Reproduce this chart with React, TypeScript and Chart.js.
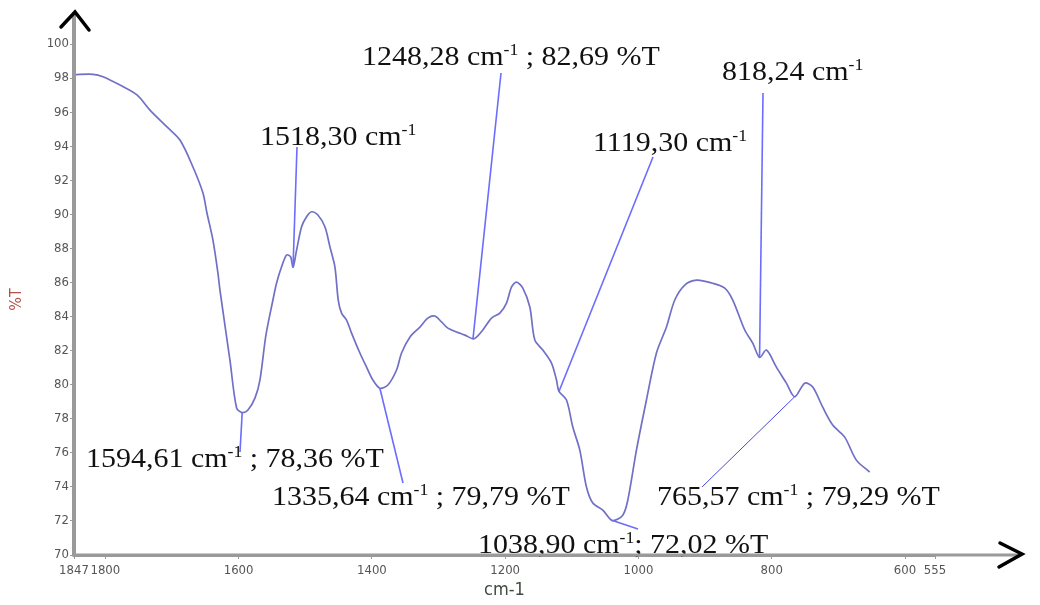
import { useEffect, useRef } from "react";
import { Chart, registerables } from "chart.js";

Chart.register(...registerables);

// FTIR transmittance trace (wavenumber in cm-1, %T)
const wavenumbers = [
  1847, 1818.5, 1803.5, 1778, 1752.5, 1733, 1707.5, 1688, 1668.5, 1653.5, 1647.5, 1638.5,
  1631, 1628, 1613, 1603, 1594.61, 1586, 1575.5, 1568, 1559, 1548.5, 1543, 1535.5, 1528,
  1522, 1518.3, 1513, 1505.5, 1498, 1490.5, 1481, 1470.5, 1463, 1455.5, 1450.5, 1445.5,
  1438, 1430.5, 1418, 1408, 1398.5, 1388, 1376, 1363, 1355.5, 1343, 1328, 1316, 1305.5,
  1295.5, 1286, 1273, 1260.5, 1248.28, 1243, 1233.5, 1220.5, 1208, 1198, 1190.5, 1183,
  1173.5, 1163, 1155.5, 1143.5, 1130.5, 1123, 1119.3, 1108, 1098.5, 1088, 1078, 1068.5,
  1053.5, 1038.9, 1023.5, 1016, 1003, 988, 973, 958, 945.5, 930.5, 912.5, 890, 870.5,
  858.5, 840.5, 828.5, 818.24, 808, 793, 778, 765.57, 750.5, 738.5, 723.5, 708.5, 690.5,
  673, 653,
];

const transmittance = [
  98.2, 98.22, 98.08, 97.59, 97.01, 96.12, 95.13, 94.36, 92.78, 91.25, 90.08, 88.49,
  86.55, 85.55, 81.44, 78.63, 78.36, 78.51, 79.21, 80.27, 82.91, 84.97, 85.97, 86.92, 87.61,
  87.51, 86.9, 87.9, 89.27, 89.86, 90.15, 89.96, 89.27, 88.1, 86.92, 84.97, 84.2,
  83.79, 83.03, 81.86, 81.03, 80.27, 79.79, 79.98, 80.86, 81.86, 82.79, 83.38, 83.91, 84.03,
  83.68, 83.32, 83.09, 82.91, 82.69, 82.79, 83.21, 83.91, 84.2, 84.79, 85.73, 86.02,
  85.67, 84.56, 82.62, 82.03, 81.27, 80.27, 79.6, 79.1, 77.51, 76.16, 73.99, 73.05,
  72.64, 72.02, 72.34, 73.22, 76.16, 79.1, 81.86, 83.38, 84.97, 85.85, 86.14, 85.97, 85.67,
  84.97, 83.21, 82.44, 81.6, 82.03, 81.03, 80.09, 79.29, 80.09, 79.86, 78.68, 77.63, 76.92,
  75.57, 74.87,
];

const xTickValues = [1847, 1800, 1600, 1400, 1200, 1000, 800, 600, 555];

// Annotated bands
const peakWavenumbers = [1594.61, 1518.3, 1335.64, 1248.28, 1119.3, 1038.9, 818.24, 765.57];
const peakTransmittance: (number | null)[] = [78.36, null, 79.79, 82.69, null, 72.02, null, 79.29];
// Point on the trace where each leader line starts
const leaderWavenumbers = [1594.61, 1518.3, 1388, 1248.28, 1119.3, 1038.9, 818.24, 765.57];
const leaderTransmittance = [78.36, 86.9, 79.79, 82.69, 79.6, 72.02, 81.6, 79.29];

// Label placement on the canvas (text origin, far end of leader, separator before %T)
const labelLayout = [
  { tx: 86, ty: 467, ex: 240, ey: 452, sep: " ; ", thin: false },
  { tx: 260, ty: 145, ex: 297, ey: 147, sep: "", thin: false },
  { tx: 272, ty: 505, ex: 403, ey: 483, sep: " ; ", thin: false },
  { tx: 362, ty: 65, ex: 501, ey: 73, sep: " ; ", thin: false },
  { tx: 593, ty: 151, ex: 653, ey: 157, sep: "", thin: false },
  { tx: 478, ty: 553, ex: 638, ey: 529, sep: "; ", thin: false },
  { tx: 722, ty: 80, ex: 763, ey: 93, sep: "", thin: false },
  { tx: 657, ty: 505, ex: 702, ey: 487, sep: " ; ", thin: true },
];

const LABEL_FONT = 27;
const LABEL_STRETCH = 1.11;
const SERIF = '"Liberation Serif", "Times New Roman", serif';
const NARROW = '"Liberation Sans Narrow", "DejaVu Sans Condensed", Arial, sans-serif';

const fmt = (v: number) => v.toFixed(2).replace(".", ",");

function drawLabel(ctx: CanvasRenderingContext2D, x: number, y: number, main: string, tail: string) {
  ctx.save();
  ctx.translate(x, y);
  ctx.scale(LABEL_STRETCH, 1);
  ctx.fillStyle = "#111";
  ctx.textBaseline = "alphabetic";
  ctx.textAlign = "left";
  ctx.font = `${LABEL_FONT}px ${SERIF}`;
  ctx.fillText(main, 0, 0);
  let w = ctx.measureText(main).width;
  const supSize = Math.round(LABEL_FONT * 0.6);
  ctx.font = `${supSize}px ${SERIF}`;
  ctx.fillText("-1", w, -LABEL_FONT * 0.36);
  w += ctx.measureText("-1").width;
  if (tail) {
    ctx.font = `${LABEL_FONT}px ${SERIF}`;
    ctx.fillText(tail, w, 0);
  }
  ctx.restore();
}

const decorations = {
  id: "decorations",
  afterDatasetsDraw(chart: any) {
    const { ctx, scales } = chart;
    const xs = scales.x;
    const ys = scales.y;
    peakWavenumbers.forEach((wn, i) => {
      const lay = labelLayout[i];
      const px = xs.getPixelForValue(leaderWavenumbers[i]);
      const py = ys.getPixelForValue(leaderTransmittance[i]);
      ctx.save();
      ctx.strokeStyle = lay.thin ? "#4848d8" : "#6c6cff";
      ctx.lineWidth = lay.thin ? 1 : 1.6;
      ctx.beginPath();
      ctx.moveTo(px, py);
      ctx.lineTo(lay.ex, lay.ey);
      ctx.stroke();
      ctx.restore();
      const t = peakTransmittance[i];
      const tail = t === null ? "" : `${lay.sep}${fmt(t)} %T`;
      drawLabel(ctx, lay.tx, lay.ty, `${fmt(wn)} cm`, tail);
    });
  },
  afterDraw(chart: any) {
    const { ctx, chartArea } = chart;
    const { left, top, bottom } = chartArea;
    ctx.save();
    // axis lines, extended past the plotted range
    ctx.strokeStyle = "#9a9a9a";
    ctx.lineWidth = 3;
    ctx.beginPath();
    ctx.moveTo(left, bottom);
    ctx.lineTo(1020, bottom);
    ctx.stroke();
    ctx.lineWidth = 4;
    ctx.beginPath();
    ctx.moveTo(left, bottom + 1.5);
    ctx.lineTo(left, 13);
    ctx.stroke();
    // arrow heads
    ctx.strokeStyle = "#000";
    ctx.lineWidth = 3.5;
    ctx.lineCap = "round";
    ctx.lineJoin = "miter";
    ctx.beginPath();
    ctx.moveTo(left - 13, top - 17);
    ctx.lineTo(left + 1, top - 32);
    ctx.lineTo(left + 15, top - 14);
    ctx.stroke();
    ctx.beginPath();
    ctx.moveTo(1000, bottom - 12);
    ctx.lineTo(1022, bottom - 1);
    ctx.lineTo(999, bottom + 12);
    ctx.stroke();
    ctx.restore();
  },
};

export default function App() {
  const canvasRef = useRef<HTMLCanvasElement | null>(null);

  useEffect(() => {
    document.body.style.margin = "0";
    const canvas = canvasRef.current;
    if (!canvas) return;
    const points = wavenumbers.map((w, i) => ({ x: w, y: transmittance[i] }));
    const chart = new Chart(canvas, {
      type: "line",
      data: {
        datasets: [
          {
            data: points,
            borderColor: "#7070c6",
            borderWidth: 1.7,
            pointRadius: 0,
            tension: 0.3,
            fill: false,
          },
        ],
      },
      options: {
        animation: false,
        responsive: false,
        maintainAspectRatio: false,
        layout: { padding: { top: 44, right: 105, left: 0, bottom: 0 } },
        plugins: {
          legend: { display: false },
          tooltip: { enabled: false },
        },
        scales: {
          x: {
            type: "linear",
            reverse: true,
            min: 555,
            max: 1847,
            afterBuildTicks: (scale: any) => {
              scale.ticks = xTickValues.map((v) => ({ value: v }));
            },
            afterFit: (scale: any) => {
              scale.height = 50;
            },
            border: { display: true, color: "#9a9a9a", width: 3 },
            grid: {
              display: true,
              drawOnChartArea: false,
              drawTicks: true,
              tickLength: 4,
              color: "#9a9a9a",
            },
            ticks: {
              autoSkip: false,
              maxRotation: 0,
              minRotation: 0,
              padding: 4,
              color: "#555",
              font: { family: NARROW, size: 13 },
              callback: (v: any) => String(v),
            },
            title: {
              display: true,
              text: "cm-1",
              color: "#3d4a3d",
              font: { family: NARROW, size: 18 },
              padding: { top: 0, bottom: 4 },
            },
          },
          y: {
            type: "linear",
            min: 70,
            max: 100,
            afterFit: (scale: any) => {
              scale.width = 74;
            },
            border: { display: true, color: "#9a9a9a", width: 4 },
            grid: {
              display: true,
              drawOnChartArea: false,
              drawTicks: true,
              tickLength: 4,
              color: "#9a9a9a",
            },
            ticks: {
              stepSize: 2,
              padding: 1,
              color: "#555",
              font: { family: NARROW, size: 13 },
              callback: (v: any) => String(v),
            },
            title: {
              display: true,
              text: "%T",
              color: "#b0524a",
              font: { family: NARROW, size: 16 },
              padding: { top: 7, bottom: 0 },
            },
          },
        },
      },
      plugins: [decorations],
    });
    return () => chart.destroy();
  }, []);

  return (
    <div style={{ position: "fixed", left: 0, top: 0, width: 1040, height: 605, background: "#fff" }}>
      <canvas ref={canvasRef} width={1040} height={605} />
    </div>
  );
}
